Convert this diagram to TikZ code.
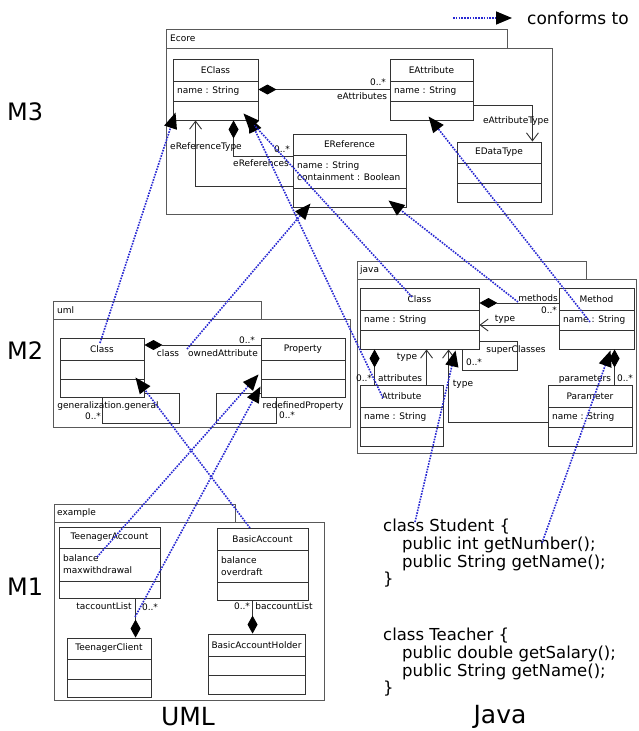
\documentclass[tikz,border=0pt]{standalone}
\usepackage{fontspec}
\setmainfont{DejaVu Sans}
\usetikzlibrary{positioning}
\usetikzlibrary{calc}
\usetikzlibrary{arrows.meta}
\definecolor{confblue}{RGB}{40,40,210}

% name, x1, y1, x2, y2, divider 1, divider 2, title, attributes
\newcommand{\umlclass}[9]{%
  \node[umlbox, minimum width=#4pt-#2pt, minimum height=#5pt-#3pt] (#1) at ({(#2+#4)/2},{(#3+#5)/2}) {};
  \draw[umlline] (#2,#6) -- (#4,#6) (#2,#7) -- (#4,#7);
  \node[umltitle] (#1t) at ({(#2+#4)/2},{(#3+#6)/2}) {#8};
  \node[umlattr] (#1a) at ({#2+4},{(#6+#7)/2}) {#9};
}

\begin{document}
\begin{tikzpicture}[x=1pt, y=-1pt,
  umlbox/.style={draw=black!80, line width=.9pt, inner sep=0pt},
  umlline/.style={draw=black!80, line width=.9pt},
  umltitle/.style={font=\fontsize{9}{11}\selectfont, inner sep=0pt},
  umlattr/.style={font=\fontsize{9}{12}\selectfont, align=left, anchor=west, inner sep=0pt},
  pkg/.style={draw=black!65, line width=.9pt},
  pkgtab/.style={font=\fontsize{9}{11}\selectfont, anchor=west, inner sep=0pt},
  lbl/.style={font=\fontsize{9}{11}\selectfont, inner sep=0pt},
  assoc/.style={draw=black!80, line width=.9pt},
  opn/.style={assoc, -{Straight Barb[length=8pt,width=12pt]}},
  comp/.style={assoc, -{Diamond[length=18pt,width=10pt,black]}},
  conf/.style={draw=confblue, line width=1.6pt, dash pattern=on 1.6pt off 1.2pt,
    -{Triangle[length=16pt,width=13pt,black]}},
  mlevel/.style={font=\fontsize{24}{28}\selectfont, anchor=west, inner sep=0pt},
  biglbl/.style={font=\fontsize{25}{30}\selectfont, inner sep=0pt},
  javacode/.style={font=\fontsize{16.5}{17.7}\selectfont, align=left, anchor=north west, inner sep=0pt}]
\useasboundingbox (0,0) rectangle (639,731);

% Ecore (M3)
\draw[pkg] (166,29) rectangle (507,48);
\draw[pkg] (166,48) rectangle (552,214);
\node[pkgtab] (ecore) at (170,38.5) {Ecore};
\umlclass{EClass}{173}{59}{258}{120}{81}{101}{EClass}{name : String}
\umlclass{EAttribute}{390}{59}{473}{120}{81}{101}{EAttribute}{name : String}
\umlclass{EReference}{293}{134}{406}{207}{155}{188}{EReference}{name : String\\containment : Boolean}
\umlclass{EDataType}{457}{142}{541}{202}{163}{183}{EDataType}{}
\draw[comp] (EAttribute.west) -- (EClass.east);
\node[lbl] (eattrmult) at (378,82) {0..*};
\node[lbl] (eattrrole) at (362,96) {eAttributes};
\draw[opn] ([yshift=-15.5pt]EAttribute.east) -| ([xshift=-9pt]EDataType.north east);
\node[lbl] (etyperole) at (516,121) {eAttributeType};
\draw[comp] ([yshift=14.5pt]EReference.west) -| ([xshift=61pt]EClass.south west);
\node[lbl] (erefmult) at (282,149) {0..*};
\node[lbl] (erefrole) at (261,163) {eReferences};
\draw[opn] ([yshift=-15.5pt]EReference.west) -| ([xshift=23pt]EClass.south west);
\node[lbl] (ereftype) at (206,147) {eReferenceType};

% uml (M2)
\draw[pkg] (53,301) rectangle (261,319);
\draw[pkg] (53,319) rectangle (350,427);
\node[pkgtab] (uml) at (57,310) {uml};
\umlclass{UClass}{60}{338}{144}{397}{360}{379}{Class}{}
\umlclass{UProperty}{261}{338}{345}{397}{360}{379}{Property}{}
\draw[comp] ([yshift=22.5pt]UProperty.west) -- ([yshift=22.5pt]UClass.east);
\node[lbl] (uclassrole) at (168,353) {class};
\node[lbl] (uownedrole) at (223,353) {ownedAttribute};
\node[lbl] (uownedmult) at (247,340) {0..*};
\draw[assoc] ([yshift=-25.5pt]UClass.east) -- ++(35,0) -- ++(0,30) -| ([xshift=43pt]UClass.south west);
\node[lbl] (ugenrole) at (108,406) {generalization.general};
\node[lbl] (ugenmult) at (93,416) {0..*};
\draw[assoc] ([yshift=-25.5pt]UProperty.west) -- ++(-44,0) -- ++(0,30) -| ([xshift=16pt]UProperty.south west);
\node[lbl] (uredefrole) at (303,406) {redefinedProperty};
\node[lbl] (uredefmult) at (287,415) {0..*};

% java (M2)
\draw[pkg] (357,261) rectangle (586,279);
\draw[pkg] (357,279) rectangle (636,453);
\node[pkgtab] (java) at (360,270) {java};
\umlclass{JClass}{360}{288}{479}{349}{310}{330}{Class}{name : String}
\umlclass{JMethod}{559}{288}{634}{349}{310}{330}{Method}{name : String}
\umlclass{JAttribute}{360}{385}{443}{446}{407}{427}{Attribute}{name : String}
\umlclass{JParameter}{548}{385}{632}{446}{407}{427}{Parameter}{name : String}
\draw[comp] ([yshift=15.5pt]JMethod.west) -- ([yshift=15.5pt]JClass.east);
\node[lbl] (jmethrole) at (538,298) {methods};
\node[lbl] (jmethmult) at (549,310) {0..*};
\draw[opn] ([yshift=-6.5pt]JMethod.west) -- ([yshift=-6.5pt]JClass.east);
\node[lbl] (jmethtype) at (505,319) {type};
\draw[assoc] ([yshift=-22.5pt]JClass.east) -- ++(38,0) -- ++(0,29) -| ([xshift=103pt]JClass.south west);
\node[lbl] (jsuperrole) at (516,350) {superClasses};
\node[lbl] (jsupermult) at (474,362) {0..*};
\draw[comp] ([xshift=15pt]JAttribute.north west) -- ([xshift=15pt]JClass.south west);
\node[lbl] (jattrmult) at (364,378) {0..*};
\node[lbl] (jattrrole) at (400,378) {attributes};
\draw[opn] ([xshift=67pt]JAttribute.north west) -- ([xshift=67pt]JClass.south west);
\node[lbl] (jattrtype) at (407,357) {type};
\draw[opn] ([yshift=-6.5pt]JParameter.west) -| ([xshift=89pt]JClass.south west);
\node[lbl] (jpartype) at (463,384) {type};
\draw[comp] ([xshift=67pt]JParameter.north west) -- ([xshift=56pt]JMethod.south west);
\node[lbl] (jparrole) at (585,379) {parameters};
\node[lbl] (jparmult) at (625,378) {0..*};

% example (M1)
\draw[pkg] (54,504) rectangle (235,522);
\draw[pkg] (54,522) rectangle (324,700);
\node[pkgtab] (example) at (57,513) {example};
\umlclass{TeenagerAccount}{59}{527}{160}{598}{548}{581}{TeenagerAccount}{balance\\maxwithdrawal}
\umlclass{BasicAccount}{217}{528}{308}{600}{550}{582}{BasicAccount}{balance\\overdraft}
\umlclass{TeenagerClient}{67}{638}{151}{697}{659}{679}{TeenagerClient}{}
\umlclass{BasicAccountHolder}{208}{634}{305}{694}{656}{675}{BasicAccountHolder}{}
\draw[comp] ([xshift=77pt]TeenagerAccount.south west) -- ([xshift=69pt]TeenagerClient.north west);
\node[lbl] (trole) at (104,606) {taccountList};
\node[lbl] (tmult) at (150,607) {0..*};
\draw[comp] ([xshift=36pt]BasicAccount.south west) -- ([xshift=45pt]BasicAccountHolder.north west);
\node[lbl] (bmult) at (242,606) {0..*};
\node[lbl] (brole) at (284,606) {baccountList};

% java code (M1)
\node[javacode] (student) at (383,519) {class Student \{\\
  \hspace*{19pt}public int getNumber();\\
  \hspace*{19pt}public String getName();\\
  \}};
\node[javacode] (teacher) at (383,628) {class Teacher \{\\
  \hspace*{19pt}public double getSalary();\\
  \hspace*{19pt}public String getName();\\
  \}};

% levels and captions
\node[mlevel] (m3) at (7,112) {M3};
\node[mlevel] (m2) at (7,351) {M2};
\node[mlevel] (m1) at (7,587) {M1};
\node[biglbl] (umlcap) at (188,717) {UML};
\node[biglbl] (javacap) at (500,717) {Java};

% conforms to
\node[font=\fontsize{17}{20}\selectfont, anchor=west, inner sep=0pt] (conforms) at (527,18) {conforms to};
\coordinate (legend) at (453,18);
\draw[conf] (legend) -- ([xshift=-15pt]conforms.west);
\coordinate (cUClass) at (100,343);
\coordinate (cBasic) at (250,528);
\coordinate (cTeen) at (97,557);
\coordinate (cTClient) at (135,617);
\coordinate (cOwned) at (187,349);
\coordinate (cJAttr) at (383,398);
\coordinate (cJClass) at (412,297);
\coordinate (cMethods) at (518,302);
\coordinate (cMName) at (590,322);
\coordinate (cNumber) at (542,543);
\coordinate (cStudent) at (415,522);
\draw[conf] (cUClass) -- ([shift={(3pt,8pt)}]EClass.south west);
\draw[conf] (cBasic) -- ([shift={(-9pt,20pt)}]UClass.south east);
\draw[conf] (cTeen) -- ([shift={(-2pt,23pt)}]UProperty.south west);
\draw[conf] (cTClient) -- ([shift={(0pt,11pt)}]UProperty.south west);
\draw[conf] (cOwned) -- ([shift={(18pt,4pt)}]EReference.south west);
\draw[conf] (cJAttr) -- ([shift={(-10pt,4pt)}]EClass.south east);
\draw[conf] (cJClass) -- ([shift={(-15pt,7pt)}]EClass.south east);
\draw[conf] (cMethods) -- ([shift={(-18pt,7pt)}]EReference.south east);
\draw[conf] (cMName) -- ([shift={(39pt,4pt)}]EAttribute.south west);
\draw[conf] (cNumber) -- ([shift={(52pt,-1pt)}]JMethod.south west);
\draw[conf] (cStudent) -- ([shift={(96pt,-1pt)}]JClass.south west);
\end{tikzpicture}
\end{document}
